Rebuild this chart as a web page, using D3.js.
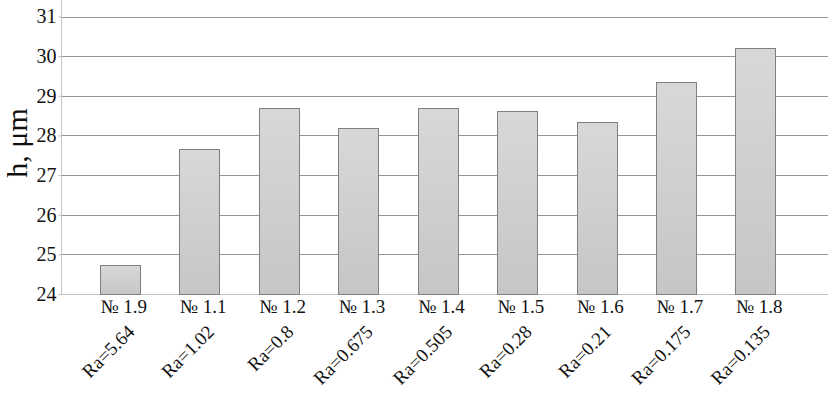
<!DOCTYPE html>
<head>
<meta charset="utf-8">
<style>
  body { margin: 0; background: #fff; }
  svg text { font-family: "Liberation Serif", "Times New Roman", serif; fill: #111; }
</style>
</head>
<body>
<div id='chart'></div>
<script src="https://cdnjs.cloudflare.com/ajax/libs/d3/7.8.5/d3.min.js"></script>
<script>
var samples = ['№ 1.9', '№ 1.1', '№ 1.2', '№ 1.3', '№ 1.4', '№ 1.5', '№ 1.6', '№ 1.7', '№ 1.8'];
var roughness = ['Ra=5.64', 'Ra=1.02', 'Ra=0.8', 'Ra=0.675', 'Ra=0.505', 'Ra=0.28', 'Ra=0.21', 'Ra=0.175', 'Ra=0.135'];
var heights = [24.74, 27.67, 28.68, 28.20, 28.68, 28.61, 28.33, 29.34, 30.20];
var yTicks = [24, 25, 26, 27, 28, 29, 30, 31];

var width = 834, height = 413;
var plotLeft = 61, plotRight = 828, plotTop = 16.5, plotBottom = 294;
var serif = '"Liberation Serif", "Times New Roman", serif';

var svg = d3.select('#chart').append('svg')
  .attr('width', width)
  .attr('height', height);

var defs = svg.append('defs');
var grad = defs.append('linearGradient')
  .attr('id', 'barFill')
  .attr('x1', 0).attr('y1', 0).attr('x2', 0).attr('y2', 1);
grad.append('stop').attr('offset', '0%').attr('stop-color', '#d8d8d8');
grad.append('stop').attr('offset', '100%').attr('stop-color', '#c6c6c6');

var y = d3.scaleLinear().domain([24, 31]).range([plotBottom, plotTop]);
var x = d3.scaleBand().domain(samples).range([80, 795]).paddingInner(0.5).paddingOuter(0.25);

// grid lines
svg.append('g')
  .selectAll('line')
  .data(yTicks.slice(1)).enter().append('line')
  .attr('x1', plotLeft).attr('x2', plotRight)
  .attr('y1', function(d) { return Math.round(y(d)) + 0.5; })
  .attr('y2', function(d) { return Math.round(y(d)) + 0.5; })
  .attr('stroke', '#949494')
  .attr('stroke-width', 1);

// y axis
var yAxis = svg.append('g')
  .attr('transform', 'translate(' + (plotLeft + 0.5) + ',0)')
  .call(d3.axisLeft(y).tickValues(yTicks).tickFormat(d3.format('d')).tickSize(3).tickPadding(2));
yAxis.select('.domain').attr('stroke', '#c4c4c4').attr('d', 'M0,0V' + (plotBottom + 0.5));
yAxis.selectAll('.tick line').attr('stroke', '#bbb');
yAxis.selectAll('.tick text')
  .style('font-family', serif)
  .style('font-size', '20px')
  .attr('fill', '#111');

// bottom axis line
svg.append('line')
  .attr('x1', plotLeft).attr('x2', plotRight)
  .attr('y1', plotBottom + 0.5).attr('y2', plotBottom + 0.5)
  .attr('stroke', '#c4c4c4');

// bars
svg.append('g')
  .selectAll('rect')
  .data(heights).enter().append('rect')
  .attr('x', function(d, i) { return Math.round(x(samples[i])) + 0.5; })
  .attr('y', function(d) { return Math.round(y(d)) + 0.5; })
  .attr('width', Math.round(x.bandwidth()))
  .attr('height', function(d) { return Math.round(plotBottom - y(d)); })
  .attr('fill', 'url(#barFill)')
  .attr('stroke', '#7f7f7f')
  .attr('stroke-width', 1);

// category labels
svg.append('g')
  .selectAll('text')
  .data(samples).enter().append('text')
  .attr('x', function(d) { return x(d) + x.bandwidth() / 2 + 4; })
  .attr('y', 313)
  .attr('text-anchor', 'middle')
  .style('font-size', '19px')
  .text(function(d) { return d; });

svg.append('g')
  .selectAll('text')
  .data(roughness).enter().append('text')
  .attr('transform', function(d, i) {
    var cx = x(samples[i]) + x.bandwidth() / 2 + 16;
    return 'translate(' + cx + ',333) rotate(-45)';
  })
  .attr('text-anchor', 'end')
  .style('font-size', '19px')
  .text(function(d) { return d; });

// y title
svg.append('text')
  .attr('transform', 'translate(27,143) rotate(-90)')
  .attr('text-anchor', 'middle')
  .style('font-size', '30px')
  .text('h, μm');
</script>
</body>
</html>
